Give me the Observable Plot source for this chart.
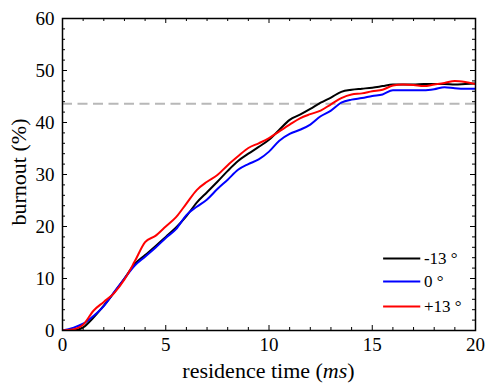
<!DOCTYPE html>
<html>
<head>
<meta charset="utf-8">
<script src="https://cdn.jsdelivr.net/npm/d3@7"></script>
<script src="https://cdn.jsdelivr.net/npm/@observablehq/plot@0.6"></script>
<style>
  html, body { margin: 0; padding: 0; background: white; }
</style>
</head>
<body>
<div id="chart"></div>
<script>
// residence time (ms)
const time = [0,0.5,1,1.5,2,2.5,3,3.5,4,4.5,5,5.5,6,6.5,7,7.5,8,8.5,9,9.5,10,10.5,11,11.5,12,12.5,13,13.5,14,14.5,15,15.5,16,16.5,17,17.5,18,18.5,19,19.5,20];
// burnout (%)
const burnoutMinus13 = [0,0,0.6,2.5,4.8,7.3,10,12.8,14.5,16.2,18,19.8,22,24.6,26.6,28.6,30.7,32.6,34,35.3,36.7,38.6,40.5,41.5,42.6,43.8,44.8,45.9,46.3,46.5,46.7,47.0,47.3,47.3,47.3,47.4,47.4,47.4,47.3,47.4,47.5];
const burnoutZero     = [0,0.5,1.3,2.8,4.7,7.4,10,12.5,14.2,15.9,17.8,19.5,22.2,23.8,25.2,27.2,29,30.9,32,32.9,34.4,36.5,37.8,38.6,39.6,41.2,42.3,43.8,44.4,44.7,45.1,45.4,46.2,46.2,46.2,46.2,46.4,46.8,46.6,46.5,46.5];
const burnoutPlus13   = [0,0.2,1.1,3.8,5.5,7.2,9.8,13.3,17,18.2,20,21.8,24.4,27,28.6,29.9,31.8,33.5,35.1,36,37,38.3,39.6,40.8,41.6,42.3,43.5,44.7,45.4,45.6,46,46.3,47.1,47.3,47.2,47.0,47.3,47.6,48.0,47.8,47.4];
const referenceLevel = 43.6;

const seriesNames = ["-13 °", "0 °", "+13 °"];
const seriesColors = ["#000000", "#0000ff", "#ff0000"];
const seriesValues = [burnoutMinus13, burnoutZero, burnoutPlus13];

const xMajor = [0, 5, 10, 15, 20];
const xMinor = d3.range(0, 21, 1).filter(v => v % 5 !== 0);
const yMajor = [0, 10, 20, 30, 40, 50, 60];
const yMinor = d3.range(0, 61, 2).filter(v => v % 10 !== 0);

// legend placement (data units)
const legendX1 = 15.55, legendX2 = 17.35, legendTextX = 17.5;
const legendY = [13.85, 9.4, 4.6];

const rows = [];
seriesNames.forEach((name, i) => {
  time.forEach((t, j) => rows.push({series: name, t, v: seriesValues[i][j]}));
});
const legendRows = seriesNames.map((name, i) => ({series: name, y: legendY[i]}));

const W = 485, H = 384, ML = 62, MR = 10, MT = 18, MB = 54;
const fw = W - ML - MR, fh = H - MT - MB;
const major = 5, minor = 3;
const FONT = "Liberation Serif";

const chart = Plot.plot({
  width: W, height: H,
  marginLeft: ML, marginRight: MR, marginTop: MT, marginBottom: MB,
  style: {fontFamily: FONT, fontSize: "19px", background: "white", color: "black"},
  x: {domain: [0, 20]},
  y: {domain: [0, 60]},
  color: {domain: seriesNames, range: seriesColors},
  marks: [
    Plot.ruleY([referenceLevel], {stroke: "#b8b8b8", strokeWidth: 2, strokeDasharray: "10,5.5"}),
    Plot.line(rows, {x: "t", y: "v", z: "series", stroke: "series", strokeWidth: 2, curve: "monotone-x", clip: true}),
    // ticks (inward)
    Plot.tickX(xMajor, {x: d => d, insetTop: fh - major, stroke: "black", strokeWidth: 1}),
    Plot.tickX(xMinor, {x: d => d, insetTop: fh - minor, stroke: "black", strokeWidth: 1}),
    Plot.tickX(xMajor, {x: d => d, insetBottom: fh - major, stroke: "black", strokeWidth: 1}),
    Plot.tickX(xMinor, {x: d => d, insetBottom: fh - minor, stroke: "black", strokeWidth: 1}),
    Plot.tickY(yMajor, {y: d => d, insetRight: fw - major, stroke: "black", strokeWidth: 1}),
    Plot.tickY(yMinor, {y: d => d, insetRight: fw - minor, stroke: "black", strokeWidth: 1}),
    Plot.tickY(yMajor, {y: d => d, insetLeft: fw - major, stroke: "black", strokeWidth: 1}),
    Plot.tickY(yMinor, {y: d => d, insetLeft: fw - minor, stroke: "black", strokeWidth: 1}),
    Plot.frame({stroke: "black", strokeWidth: 1.5}),
    Plot.axisX({ticks: xMajor, tickSize: 0, tickPadding: 7, label: null, fontSize: 19}),
    Plot.axisY({ticks: yMajor, tickSize: 0, tickPadding: 8, label: null, fontSize: 19}),
    // legend
    Plot.ruleY(legendRows, {y: "y", x1: legendX1, x2: legendX2, stroke: "series", strokeWidth: 2}),
    Plot.text(legendRows, {x: legendTextX, y: "y", text: "series", textAnchor: "start", fontSize: 17, fill: "black"})
  ]
});

const svg = d3.select(chart);
// x-axis label with italic unit
const xl = svg.append("text")
  .attr("x", ML + fw / 2).attr("y", 378)
  .attr("text-anchor", "middle")
  .attr("font-size", 22)
  .attr("fill", "black");
xl.append("tspan").text("residence time (");
xl.append("tspan").attr("font-style", "italic").text("ms");
xl.append("tspan").text(")");
// y-axis label
svg.append("text")
  .attr("transform", `translate(25.5,${MT + fh / 2 - 2}) rotate(-90)`)
  .attr("text-anchor", "middle")
  .attr("font-size", 22)
  .attr("fill", "black")
  .text("burnout (%)");

svg.selectAll("text").attr("font-family", FONT);

document.getElementById("chart").appendChild(chart);
</script>
</body>
</html>
